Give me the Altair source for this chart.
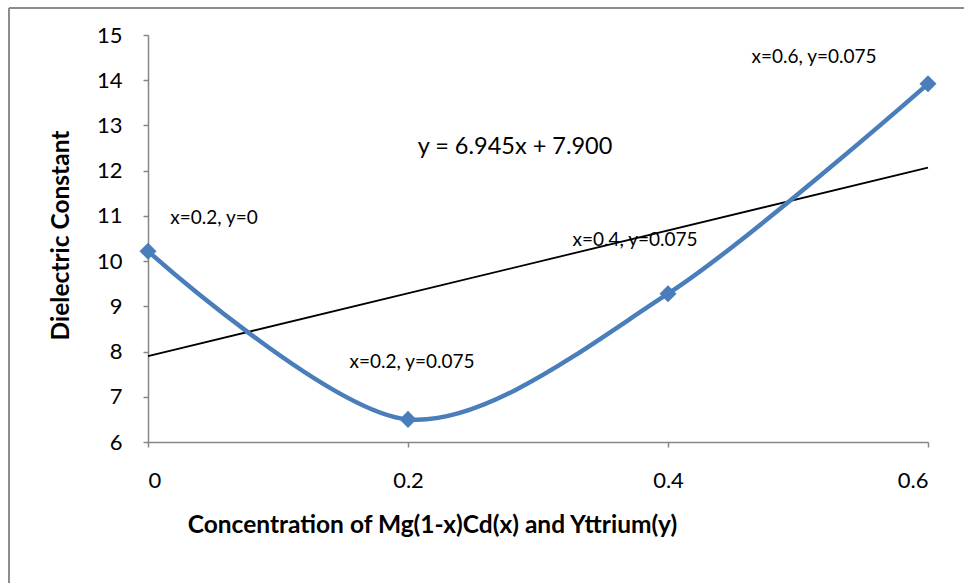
import altair as alt
import pandas as pd

# Measured dielectric constant for each composition
concentration = [0.0, 0.2, 0.4, 0.6]
dielectric = [10.22, 6.50, 9.28, 13.92]
point_labels = ["x=0.2, y=0", "x=0.2, y=0.075", "x=0.4, y=0.075", "x=0.6, y=0.075"]

# Linear trend line coefficients
slope = 6.945
intercept = 7.900
trend_x = [0.0, 0.6]

FONT = "Lato"
BLUE = "#4a7ebb"
AXIS_GREY = "#868686"

df = pd.DataFrame({"x": concentration, "y": dielectric, "label": point_labels})
trend = pd.DataFrame({"x": trend_x})

x_scale = alt.Scale(domain=[0, 0.6], nice=False, zero=False)
y_scale = alt.Scale(domain=[6, 15], nice=False, zero=False)

x_axis = alt.Axis(
    title="Concentration of Mg(1-x)Cd(x) and Yttrium(y)",
    values=[0, 0.2, 0.4, 0.6],
    labelExpr="datum.value == 0 ? '0' : format(datum.value, '.1f')",
    grid=False,
    domainColor=AXIS_GREY, domainWidth=1.5,
    tickColor=AXIS_GREY, tickWidth=1.5, tickSize=5,
    labelFont=FONT, labelFontSize=22, labelColor="black", labelPadding=23,
    titleFont=FONT, titleFontSize=24.5, titleFontWeight="bold", titleColor="black",
    titleX=284, titleY=83, titleAlign="center", titleBaseline="middle",
)
y_axis = alt.Axis(
    title="Dielectric Constant",
    values=list(range(6, 16)),
    grid=False,
    domainColor=AXIS_GREY, domainWidth=1.5,
    tickColor=AXIS_GREY, tickWidth=1.5, tickSize=5,
    labelFont=FONT, labelFontSize=22, labelColor="black", labelPadding=21,
    titleFont=FONT, titleFontSize=24.5, titleFontWeight="bold", titleColor="black",
    titleX=-87, titleY=200, titleAlign="center", titleBaseline="middle",
)

base = alt.Chart(df)

# Smoothed series line
curve = base.mark_line(
    interpolate="cardinal", tension=0.1, color=BLUE, strokeWidth=4.5
).encode(
    x=alt.X("x:Q", scale=x_scale, axis=x_axis),
    y=alt.Y("y:Q", scale=y_scale, axis=y_axis),
)

markers = base.mark_point(
    shape="diamond", filled=True, size=290, color=BLUE, opacity=1
).encode(x=alt.X("x:Q", scale=x_scale), y=alt.Y("y:Q", scale=y_scale))

trend_line = alt.Chart(trend).transform_calculate(
    y=f"{slope} * datum.x + {intercept}"
).mark_line(color="black", strokeWidth=1.8).encode(
    x=alt.X("x:Q", scale=x_scale), y=alt.Y("y:Q", scale=y_scale)
)

# Per-point annotations, each offset from its own marker
offsets = [(66, -33), (4, -57), (-33, -54), (-114, -27)]
label_layers = []
for i, (dx, dy) in enumerate(offsets):
    label_layers.append(
        alt.Chart(df.iloc[[i]]).mark_text(
            font=FONT, fontSize=19, color="black", dx=dx, dy=dy,
            align="center", baseline="middle",
        ).encode(
            x=alt.X("x:Q", scale=x_scale), y=alt.Y("y:Q", scale=y_scale), text="label:N"
        )
    )

equation = alt.Chart(df.iloc[[0]]).mark_text(
    font=FONT, fontSize=23.5, color="black", align="center", baseline="middle"
).encode(
    x=alt.value(367), y=alt.value(112),
    text=alt.value(f"y = {slope:.3f}x + {intercept:.3f}"),
)

# Outer chart frame (top and left edges)
frame_top = alt.Chart(df.iloc[[0]]).mark_rule(
    color="#8c8c8c", strokeWidth=2, clip=False
).encode(x=alt.value(-139), x2=alt.value(830), y=alt.value(-27))
frame_left = alt.Chart(df.iloc[[0]]).mark_rule(
    color="#8c8c8c", strokeWidth=2, clip=False
).encode(x=alt.value(-139), y=alt.value(-27), y2=alt.value(560))

chart = alt.layer(
    frame_top, frame_left, trend_line, curve, markers, equation, *label_layers
).properties(
    width=780,
    height=407,
    autosize=alt.AutoSizeParams(type="none"),
    padding={"left": 148, "top": 35, "right": 36, "bottom": 141},
    background="white",
).configure_view(stroke=None)

chart.save("out.html", embed_options={"renderer": "svg", "actions": False})
